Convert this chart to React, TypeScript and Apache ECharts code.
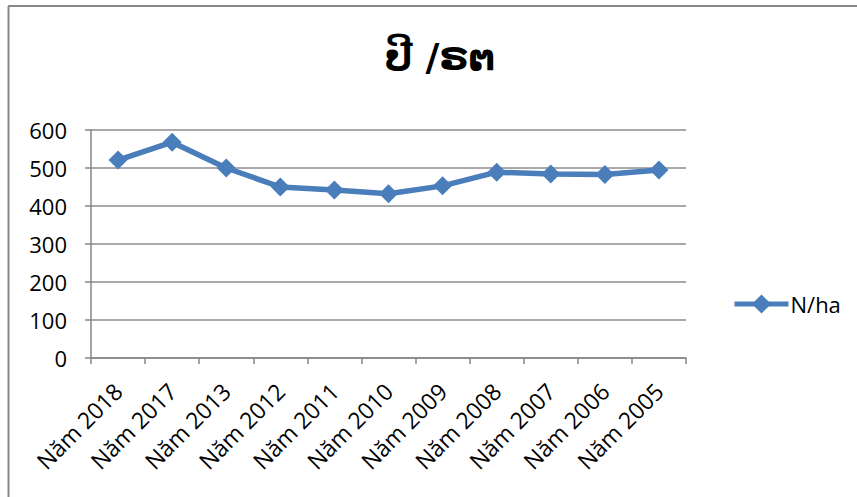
import React, { useEffect, useRef } from "react";
import * as echarts from "echarts";

const categories = ["Năm 2018", "Năm 2017", "Năm 2013", "Năm 2012", "Năm 2011", "Năm 2010", "Năm 2009", "Năm 2008", "Năm 2007", "Năm 2006", "Năm 2005"];
const values = [521, 568, 500, 450, 442, 432, 453, 489, 484, 483, 495];
const seriesName = "N/ha";
const titleText = "ປີ /ຣຕ";

const LABEL_FONT = "'Open Sans', 'Noto Sans', sans-serif";

export default function App() {
  const ref = useRef<HTMLDivElement>(null);
  useEffect(() => {
    if (!ref.current) return;
    const chart = echarts.init(ref.current, undefined, { renderer: "svg" });
    chart.setOption({
      animation: false,
      backgroundColor: "#ffffff",
      title: {
        text: titleText,
        left: 435,
        top: 33,
        textAlign: "center",
        textStyle: { fontFamily: "'DejaVu Sans', sans-serif", fontWeight: "bold", fontSize: 38, color: "#000" },
      },
      legend: {
        left: 727,
        top: 288,
        itemWidth: 54,
        itemHeight: 24,
        itemGap: 4,
        lineStyle: { width: 5 },
        textStyle: { fontFamily: LABEL_FONT, fontSize: 22, color: "#000", padding: [0, 0, 0, -3] },
        data: [seriesName],
      },
      grid: { left: 91, top: 130, right: 171, bottom: 139, containLabel: false },
      xAxis: {
        type: "category",
        data: categories,
        boundaryGap: true,
        axisLine: { lineStyle: { color: "#868686", width: 1.5 } },
        axisTick: { show: true, length: 6, lineStyle: { color: "#868686", width: 1.5 } },
        axisLabel: { rotate: 45, margin: 29, fontFamily: LABEL_FONT, fontSize: 23, color: "#000", interval: 0 },
      },
      yAxis: {
        type: "value",
        min: 0,
        max: 600,
        interval: 100,
        axisLine: { show: true, lineStyle: { color: "#868686", width: 1.5 } },
        axisTick: { show: true, inside: false, length: 6, lineStyle: { color: "#868686", width: 1.5 } },
        axisLabel: { margin: 24, fontFamily: LABEL_FONT, fontSize: 22, color: "#000" },
        splitLine: { show: true, lineStyle: { color: "#8c8c8c", width: 1.5 } },
      },
      series: [
        {
          name: seriesName,
          type: "line",
          data: values,
          symbol: "diamond",
          symbolSize: 19,
          itemStyle: { color: "#4a7ebb" },
          lineStyle: { color: "#4a7ebb", width: 5.5 },
        },
      ],
      graphic: [
        { type: "line", shape: { x1: 8.5, y1: 6, x2: 8.5, y2: 497 }, style: { stroke: "#888", lineWidth: 2 } },
        { type: "line", shape: { x1: 8, y1: 6, x2: 857, y2: 6 }, style: { stroke: "#888", lineWidth: 2 } },
      ],
    });
    return () => chart.dispose();
  }, []);
  return <div ref={ref} style={{ position: "fixed", left: 0, top: 0, width: 857, height: 497 }} />;
}
